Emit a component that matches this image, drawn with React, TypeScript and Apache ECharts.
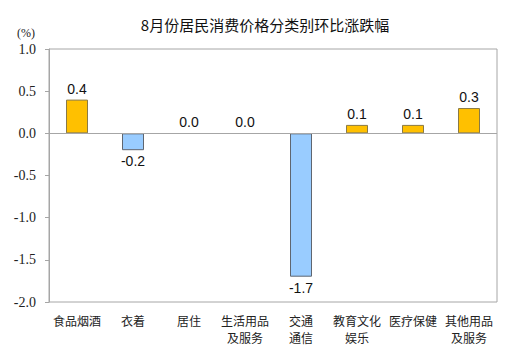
import React, { useEffect, useRef } from "react";
import * as echarts from "echarts";

const categories = [
  "食品烟酒",
  "衣着",
  "居住",
  "生活用品\n及服务",
  "交通\n通信",
  "教育文化\n娱乐",
  "医疗保健",
  "其他用品\n及服务",
];
const values = [0.4, -0.2, 0.0, 0.0, -1.7, 0.1, 0.1, 0.3];
const yTicks = { min: -2.0, max: 1.0, interval: 0.5 };
const title = "8月份居民消费价格分类别环比涨跌幅";
const unit = "(%)";

export default function App() {
  const ref = useRef<HTMLDivElement>(null);
  useEffect(() => {
    if (!ref.current) return;
    const chart = echarts.init(ref.current, undefined, { renderer: "svg" });
    const cjk = "'Noto Sans CJK SC', sans-serif";
    chart.setOption({
      animation: false,
      backgroundColor: "#ffffff",
      title: {
        text: title,
        left: 260,
        textAlign: "center",
        top: 12,
        textStyle: { fontFamily: cjk, fontSize: 15, fontWeight: "normal", color: "#111" },
      },
      graphic: [
        {
          type: "text",
          left: 17,
          top: 27,
          style: { text: unit, font: "12px 'Liberation Serif', serif", fill: "#222" },
        },
      ],
      grid: {
        left: 49,
        right: 12,
        top: 49,
        bottom: 58,
        show: true,
        borderColor: "#a6a6a6",
        borderWidth: 1,
      },
      xAxis: {
        type: "category",
        data: categories,
        position: "bottom",
        axisLine: { show: false, onZero: false },
        axisTick: { show: false },
        axisLabel: {
          interval: 0,
          margin: 10,
          fontFamily: cjk,
          fontSize: 12,
          lineHeight: 17,
          color: "#222",
        },
      },
      yAxis: {
        type: "value",
        min: yTicks.min,
        max: yTicks.max,
        interval: yTicks.interval,
        splitLine: { show: false },
        axisLine: { show: true, lineStyle: { color: "#a6a6a6" } },
        axisTick: { show: true, length: 4, lineStyle: { color: "#a6a6a6" } },
        axisLabel: {
          margin: 13,
          fontFamily: "'Liberation Serif', serif",
          fontSize: 14,
          color: "#222",
          formatter: (v: number) => v.toFixed(1),
        },
      },
      series: [
        {
          type: "bar",
          barWidth: 22,
          data: values.map((v) => ({
            value: v,
            itemStyle:
              v > 0
                ? { color: "#FFC000", borderColor: "#8a7a45", borderWidth: 1 }
                : v < 0
                ? { color: "#99CCFF", borderColor: "#5f6670", borderWidth: 1 }
                : { color: "rgba(0,0,0,0)", borderColor: "rgba(0,0,0,0)", borderWidth: 0 },
            label: {
              show: true,
              position: v >= 0 ? "top" : "bottom",
              distance: 4,
              formatter: v.toFixed(1),
              fontFamily: "'Liberation Sans', Arial, sans-serif",
              fontSize: 14,
              color: "#111",
            },
          })),
          markLine: {
            silent: true,
            symbol: "none",
            label: { show: false },
            lineStyle: { color: "#a6a6a6", type: "solid", width: 1 },
            data: [{ yAxis: 0 }],
          },
        },
      ],
    });
    return () => chart.dispose();
  }, []);
  return <div ref={ref} style={{ width: 509, height: 360, margin: -8 }} />;
}
